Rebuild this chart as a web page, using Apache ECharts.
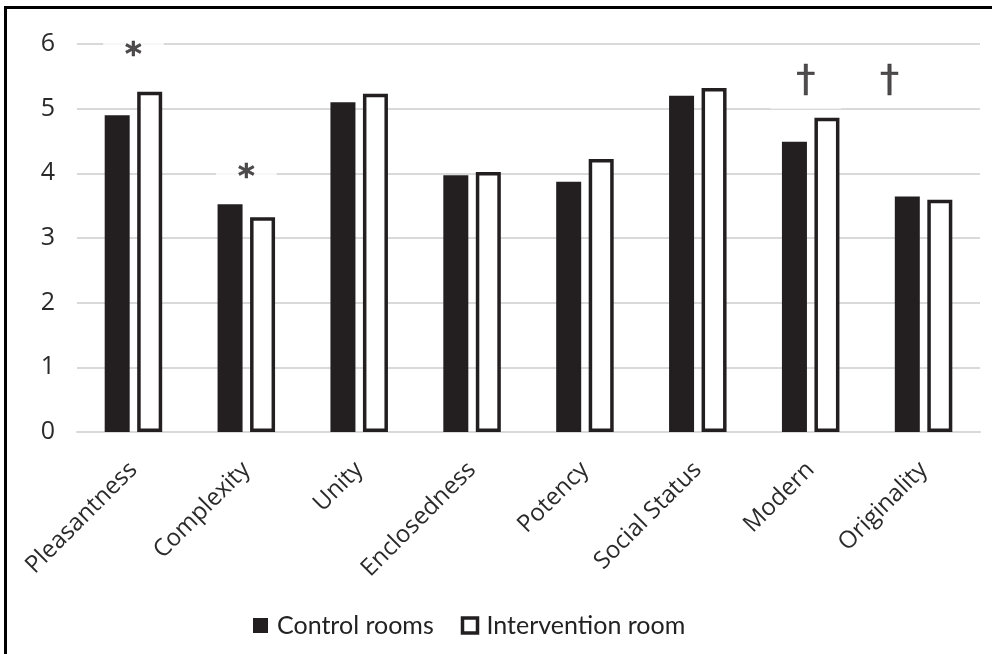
<!DOCTYPE html>
<html>
<head>
<meta charset="utf-8">
<script src="https://cdn.jsdelivr.net/npm/echarts@6/dist/echarts.min.js"></script>
<style>html,body{margin:0;padding:0;background:#fff;}#c{width:992px;height:654px;}</style>
</head>
<body>
<div id="c"></div>
<script>
const categories = ['Pleasantness','Complexity','Unity','Enclosedness','Potency','Social Status','Modern','Originality'];
const controlRooms = [4.90, 3.52, 5.10, 3.97, 3.87, 5.20, 4.49, 3.64];
const interventionRoom = [5.26, 3.32, 5.23, 4.02, 4.22, 5.32, 4.86, 3.59];
const sigMarks = ['*', '*', '', '', '', '', '\u2020', '\u2020'];
const sigHeights = [5.88, 4.0, null, null, null, null, 5.43, 5.43];
const yTicks = [0, 1, 2, 3, 4, 5, 6];

const FONT = 'Lato';
const INK = '#231f20';

const sigOffsets = [[0, 4], [0, 4], [0, 0], [0, 0], [0, 0], [0, 0], [-5, 0], [-34, 0]];
const sigPads = [[2, 22], [2, 22], 0, 0, 0, 0, [14, 26, 4, 26], 0];
const sigBg = ['#fff', '#fff', null, null, null, null, '#fff', null];
const sigSizes = [32, 32, 0, 0, 0, 0, 38, 38];
const sigWeights = ['bold', 'bold', '', '', '', '', 'normal', 'normal'];

const sigData = [];
categories.forEach((c, i) => {
  if (sigMarks[i]) {
    sigData.push({
      value: [c, sigHeights[i]],
      mark: sigMarks[i],
      label: {
        offset: sigOffsets[i],
        padding: sigPads[i],
        fontSize: sigSizes[i],
        fontWeight: sigWeights[i],
        backgroundColor: sigBg[i] || 'transparent'
      }
    });
  }
});

const chart = echarts.init(document.getElementById('c'), null, {renderer: 'canvas'});
chart.setOption({
  animation: false,
  backgroundColor: '#fff',
  textStyle: {fontFamily: FONT},
  grid: {left: 77, right: 12, top: 44, bottom: 222, containLabel: false},
  legend: {
    data: [
      {name: 'Control rooms', icon: 'rect', itemStyle: {color: INK, borderWidth: 0}},
      {name: 'Intervention room', icon: 'rect', itemStyle: {color: '#fff', borderColor: INK, borderWidth: 3.5}}
    ],
    bottom: 11,
    left: 248,
    itemWidth: 15,
    itemHeight: 15,
    itemGap: 27,
    textStyle: {fontFamily: FONT, fontSize: 25, color: '#222', padding: [0, 0, 0, 4]}
  },
  xAxis: {
    type: 'category',
    data: categories,
    axisLine: {show: true, lineStyle: {color: '#d9d9d9', width: 2}},
    axisTick: {show: false},
    axisLabel: {rotate: 45, fontSize: 24, color: '#2a2a2a', margin: 34, fontFamily: 'Open Sans', interval: 0}
  },
  yAxis: {
    type: 'value',
    min: 0, max: 6, interval: 1,
    axisLine: {show: false},
    axisTick: {show: false},
    splitLine: {lineStyle: {color: '#d9d9d9', width: 2}},
    axisLabel: {fontSize: 25, color: '#2a2a2a', margin: 22, fontFamily: 'Open Sans',
      formatter: v => yTicks.includes(v) ? String(v) : ''}
  },
  series: [
    {
      name: 'Control rooms', type: 'bar', data: controlRooms, z: 3,
      barWidth: 25, barGap: '30%',
      itemStyle: {color: INK}
    },
    {
      name: 'Intervention room', type: 'bar', data: interventionRoom, z: 3,
      barWidth: 25, barGap: '30%',
      itemStyle: {color: '#fff', borderColor: INK, borderWidth: 3.5}
    },
    {
      name: 'sig', type: 'scatter', data: sigData, z: 1,
      symbolSize: 0, silent: true,
      label: {
        show: true, position: 'inside',
        formatter: p => p.data.mark,
        fontSize: 32, fontWeight: 'bold', color: INK, fontFamily: 'DejaVu Sans',
        textBorderColor: INK, textBorderWidth: 0.6
      }
    }
  ],
  graphic: [
    {type: 'polyline', shape: {points: [[5.5, 660], [5.5, 7.5], [1000, 7.5]]},
     style: {stroke: '#000', lineWidth: 3, fill: null}, z: 10}
  ]
});
</script>
</body>
</html>
